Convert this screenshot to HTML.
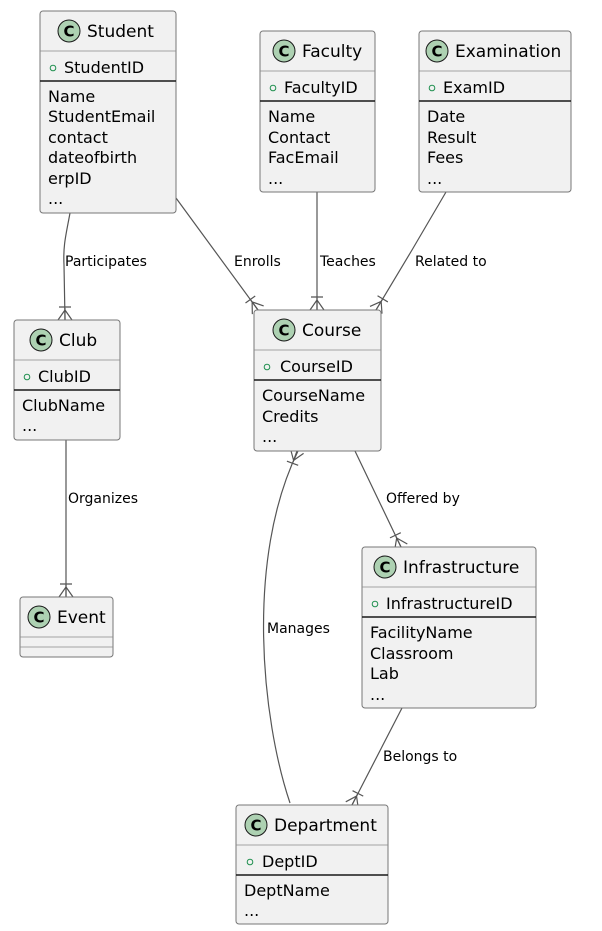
<!DOCTYPE html>
<html><head><meta charset="utf-8"><style>
html,body{margin:0;padding:0;background:#fff;}
svg{display:block;}
text{font-family:"DejaVu Sans","Liberation Sans",sans-serif;fill:#000;}
.t{font-size:17px;}
.a{font-size:16px;}
.l{font-size:14px;}
.box{fill:#F1F1F1;stroke:#777;stroke-width:1;}
.sep{stroke:#888;stroke-width:0.8;}
.sep2{stroke:#181818;stroke-width:1.5;}
.ln{fill:none;stroke:#555;stroke-width:1.2;}
.cc{fill:#ADD1B2;stroke:#181818;stroke-width:1;}
.ct{font-size:15px;font-weight:bold;}
.pk{fill:none;stroke:#1E8F4E;stroke-width:1;}
</style></head><body>
<svg width="602" height="931" viewBox="0 0 602 931" xmlns="http://www.w3.org/2000/svg">
<defs>
<g id="cf"><path class="ln" d="M0,-10 L-7,0 M0,-10 L7,0 M0,-12 L0,0 M-6,-13 L6,-13"/></g>
</defs>

<path class="ln" d="M70,213 C66,235 63,245 64,265 L65,320"/>
<use href="#cf" transform="translate(65,320)"/>
<text class="l" x="65" y="266">Participates</text>

<path class="ln" d="M176,198 L258,310"/>
<use href="#cf" transform="translate(258,310) rotate(-36)"/>
<text class="l" x="234" y="266">Enrolls</text>

<path class="ln" d="M317,192 L317,310"/>
<use href="#cf" transform="translate(317,310)"/>
<text class="l" x="320" y="266">Teaches</text>

<path class="ln" d="M446,192 L412,250 L376,310"/>
<use href="#cf" transform="translate(376,310) rotate(31)"/>
<text class="l" x="415" y="266">Related to</text>

<path class="ln" d="M66,440 L66,597"/>
<use href="#cf" transform="translate(66,597)"/>
<text class="l" x="68" y="503">Organizes</text>

<path class="ln" d="M355,451 L401,547"/>
<use href="#cf" transform="translate(401,547) rotate(-25.6)"/>
<text class="l" x="386" y="503">Offered by</text>

<path class="ln" d="M290,803 C262,720 245,560 298,451"/>
<use href="#cf" transform="translate(297,451) rotate(-160)"/>
<text class="l" x="267" y="633">Manages</text>

<path class="ln" d="M402,708 L352,805"/>
<use href="#cf" transform="translate(352,805) rotate(27)"/>
<text class="l" x="383" y="761">Belongs to</text>

<rect class="box" x="40" y="11" width="136" height="202" rx="3"/>
<circle class="cc" cx="69" cy="31" r="11"/><text class="ct" x="69" y="36.5" text-anchor="middle">C</text>
<text class="t" x="87" y="37">Student</text>
<line class="sep" x1="40" y1="51" x2="176" y2="51"/>
<circle class="pk" cx="53" cy="68" r="2.8"/><text class="a" x="64" y="73">StudentID</text>
<line class="sep2" x1="40" y1="81" x2="176" y2="81"/>
<text class="a" x="48" y="102">Name</text>
<text class="a" x="48" y="122">StudentEmail</text>
<text class="a" x="48" y="143">contact</text>
<text class="a" x="48" y="163">dateofbirth</text>
<text class="a" x="48" y="184">erpID</text>
<text class="a" x="48" y="204">...</text>

<rect class="box" x="260" y="31" width="115" height="161" rx="3"/>
<circle class="cc" cx="284" cy="51" r="11"/><text class="ct" x="284" y="56.5" text-anchor="middle">C</text>
<text class="t" x="302" y="57">Faculty</text>
<line class="sep" x1="260" y1="71" x2="375" y2="71"/>
<circle class="pk" cx="273" cy="88" r="2.8"/><text class="a" x="284" y="93">FacultyID</text>
<line class="sep2" x1="260" y1="101" x2="375" y2="101"/>
<text class="a" x="268" y="122">Name</text>
<text class="a" x="268" y="143">Contact</text>
<text class="a" x="268" y="163">FacEmail</text>
<text class="a" x="268" y="184">...</text>

<rect class="box" x="419" y="31" width="152" height="161" rx="3"/>
<circle class="cc" cx="437" cy="51" r="11"/><text class="ct" x="437" y="56.5" text-anchor="middle">C</text>
<text class="t" x="455" y="57">Examination</text>
<line class="sep" x1="419" y1="71" x2="571" y2="71"/>
<circle class="pk" cx="432" cy="88" r="2.8"/><text class="a" x="443" y="93">ExamID</text>
<line class="sep2" x1="419" y1="101" x2="571" y2="101"/>
<text class="a" x="427" y="122">Date</text>
<text class="a" x="427" y="143">Result</text>
<text class="a" x="427" y="163">Fees</text>
<text class="a" x="427" y="184">...</text>

<rect class="box" x="14" y="320" width="106" height="120" rx="3"/>
<circle class="cc" cx="41" cy="340" r="11"/><text class="ct" x="41" y="345.5" text-anchor="middle">C</text>
<text class="t" x="59" y="346">Club</text>
<line class="sep" x1="14" y1="360" x2="120" y2="360"/>
<circle class="pk" cx="27" cy="377" r="2.8"/><text class="a" x="38" y="382">ClubID</text>
<line class="sep2" x1="14" y1="390" x2="120" y2="390"/>
<text class="a" x="22" y="411">ClubName</text>
<text class="a" x="22" y="431">...</text>

<rect class="box" x="254" y="310" width="127" height="141" rx="3"/>
<circle class="cc" cx="284" cy="330" r="11"/><text class="ct" x="284" y="335.5" text-anchor="middle">C</text>
<text class="t" x="302" y="336">Course</text>
<line class="sep" x1="254" y1="350" x2="381" y2="350"/>
<circle class="pk" cx="267" cy="367" r="2.8"/><text class="a" x="280" y="372">CourseID</text>
<line class="sep2" x1="254" y1="380" x2="381" y2="380"/>
<text class="a" x="262" y="401">CourseName</text>
<text class="a" x="262" y="422">Credits</text>
<text class="a" x="262" y="442">...</text>

<rect class="box" x="20" y="597" width="93" height="60" rx="3"/>
<circle class="cc" cx="39" cy="617" r="11"/><text class="ct" x="39" y="622.5" text-anchor="middle">C</text>
<text class="t" x="57" y="623">Event</text>
<line class="sep" x1="20" y1="637" x2="113" y2="637"/>
<line class="sep" x1="20" y1="647" x2="113" y2="647"/>

<rect class="box" x="362" y="547" width="174" height="161" rx="3"/>
<circle class="cc" cx="385" cy="567" r="11"/><text class="ct" x="385" y="572.5" text-anchor="middle">C</text>
<text class="t" x="403" y="573">Infrastructure</text>
<line class="sep" x1="362" y1="587" x2="536" y2="587"/>
<circle class="pk" cx="375" cy="604" r="2.8"/><text class="a" x="386" y="609">InfrastructureID</text>
<line class="sep2" x1="362" y1="617" x2="536" y2="617"/>
<text class="a" x="370" y="638">FacilityName</text>
<text class="a" x="370" y="659">Classroom</text>
<text class="a" x="370" y="679">Lab</text>
<text class="a" x="370" y="700">...</text>

<rect class="box" x="236" y="805" width="152" height="119" rx="3"/>
<circle class="cc" cx="256" cy="825" r="11"/><text class="ct" x="256" y="830.5" text-anchor="middle">C</text>
<text class="t" x="274" y="831">Department</text>
<line class="sep" x1="236" y1="845" x2="388" y2="845"/>
<circle class="pk" cx="250" cy="862" r="2.8"/><text class="a" x="262" y="867">DeptID</text>
<line class="sep2" x1="236" y1="875" x2="388" y2="875"/>
<text class="a" x="244" y="896">DeptName</text>
<text class="a" x="244" y="916">...</text>
</svg>
</body></html>
